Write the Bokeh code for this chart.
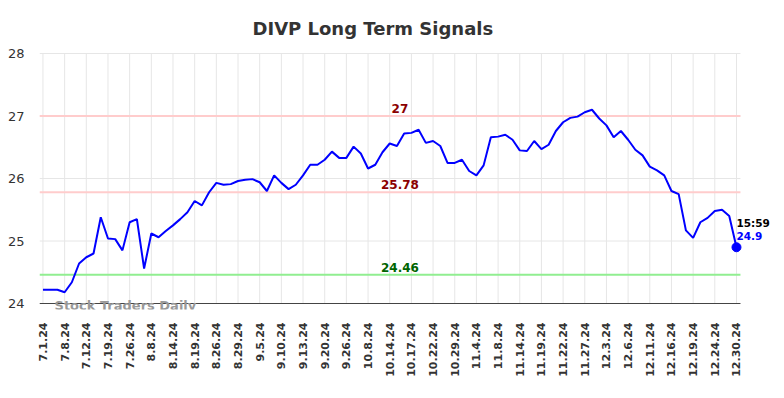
from bokeh.plotting import figure
from bokeh.models import FixedTicker, Label, ColumnDataSource, Range1d
from bokeh.embed import file_html
from bokeh.resources import INLINE

# ---- data ----
dates = ["7.1.24", "7.8.24", "7.12.24", "7.19.24", "7.26.24", "8.8.24", "8.14.24",
         "8.19.24", "8.26.24", "8.29.24", "9.5.24", "9.10.24", "9.13.24", "9.20.24",
         "9.26.24", "10.8.24", "10.14.24", "10.17.24", "10.22.24", "10.29.24",
         "11.4.24", "11.8.24", "11.14.24", "11.19.24", "11.22.24", "11.27.24",
         "12.3.24", "12.6.24", "12.11.24", "12.16.24", "12.19.24", "12.24.24",
         "12.30.24"]
points_per_tick = 3

prices = [24.22, 24.22, 24.22, 24.18, 24.34, 24.64, 24.74, 24.80, 25.38, 25.04,
          25.03, 24.85, 25.30, 25.35, 24.56, 25.12, 25.06, 25.16, 25.25, 25.35,
          25.46, 25.64, 25.57, 25.78, 25.93, 25.90, 25.91, 25.96, 25.98, 25.99,
          25.94, 25.80, 26.05, 25.93, 25.83, 25.90, 26.05, 26.22, 26.22, 26.30,
          26.43, 26.33, 26.33, 26.51, 26.40, 26.16, 26.22, 26.42, 26.56, 26.52,
          26.72, 26.73, 26.78, 26.57, 26.60, 26.52, 26.25, 26.25, 26.30, 26.12,
          26.05, 26.21, 26.66, 26.67, 26.70, 26.62, 26.45, 26.44, 26.60, 26.47,
          26.54, 26.76, 26.90, 26.97, 26.99, 27.06, 27.10, 26.96, 26.85, 26.66,
          26.76, 26.62, 26.46, 26.37, 26.19, 26.13, 26.05, 25.80, 25.75, 25.17,
          25.05, 25.30, 25.37, 25.48, 25.50, 25.40, 24.90]

levels = [27.0, 25.78, 24.46]
level_labels = ["27", "25.78", "24.46"]
level_line_colors = ["#ffcccc", "#ffcccc", "#90ee90"]
level_text_colors = ["#8b0000", "#8b0000", "#006400"]
y_ticks = [24, 25, 26, 27, 28]
last_time = "15:59"

# ---- layout constants (plot area in data units) ----
x_lo, x_hi = -0.48, len(prices) - 1 + 0.55     # visible plot box
x_view_hi = x_lo + 741 / 7.224                 # frame extends right for end labels
y_lo, y_hi = y_ticks[0], y_ticks[-1]
y_view_lo, y_view_hi = y_lo - 6 / 62.5, y_hi + 1 / 62.5

xs = list(range(len(prices)))
src = ColumnDataSource(dict(x=xs, y=prices))
tick_pos = [i * points_per_tick for i in range(len(dates))]

p = figure(width=780, height=394, output_backend="svg", toolbar_location=None,
           x_range=Range1d(x_lo, x_view_hi), y_range=Range1d(y_view_lo, y_view_hi),
           min_border_left=39, min_border_right=0, min_border_top=52,
           min_border_bottom=85)
p.outline_line_color = None
p.background_fill_color = "white"
p.border_fill_color = "white"
p.xgrid.visible = False
p.ygrid.visible = False

p.title.text = "DIVP Long Term Signals"
p.title.text_font = "DejaVu Sans"
p.title.text_font_size = "18px"
p.title.text_font_style = "bold"
p.title.text_color = "#333333"
p.title.align = "left"
p.title.offset = 213
p.title.standoff = 28

p.xaxis.ticker = FixedTicker(ticks=tick_pos)
p.xaxis.major_label_overrides = {t: d for t, d in zip(tick_pos, dates)}
p.xaxis.major_label_orientation = 1.5707963
p.xaxis.major_label_text_font = "DejaVu Sans"
p.xaxis.major_label_text_font_size = "11px"
p.xaxis.major_label_text_font_style = "bold"
p.xaxis.major_label_text_color = "#333333"
p.xaxis.major_tick_line_color = None
p.xaxis.major_tick_out = 0
p.xaxis.major_tick_in = 0
p.xaxis.minor_tick_line_color = None
p.xaxis.major_label_standoff = 13
p.xaxis.axis_line_color = None

p.yaxis.ticker = FixedTicker(ticks=y_ticks)
p.yaxis.major_label_text_font = "DejaVu Sans"
p.yaxis.major_label_text_font_size = "13px"
p.yaxis.major_label_text_color = "#333333"
p.yaxis.axis_line_color = None
p.yaxis.major_tick_line_color = None
p.yaxis.minor_tick_line_color = None
p.yaxis.major_label_standoff = 9

# grid lines limited to the plot box
p.segment(x0=[x_lo] * len(y_ticks), x1=[x_hi] * len(y_ticks), y0=y_ticks, y1=y_ticks,
          line_color="#e6e6e6", line_width=1)
p.segment(x0=tick_pos, x1=tick_pos, y0=[y_lo] * len(tick_pos), y1=[y_hi] * len(tick_pos),
          line_color="#e6e6e6", line_width=1)

# signal levels
p.segment(x0=[x_lo] * len(levels), x1=[x_hi] * len(levels), y0=levels, y1=levels,
          line_color=level_line_colors, line_width=2)
for lv, lt, tc in zip(levels, level_labels, level_text_colors):
    p.add_layout(Label(x=49.41, y=lv, text=lt, text_align="center",
                       text_baseline="middle", y_offset=7.5, text_color=tc,
                       text_font="DejaVu Sans", text_font_size="12px",
                       text_font_style="bold"))

# bottom axis line
p.segment(x0=[x_lo], x1=[x_hi], y0=[y_lo], y1=[y_lo], line_color="#444444", line_width=1)

p.add_layout(Label(x=1.6, y=y_lo, text="Stock Traders Daily", text_align="left",
                   text_baseline="alphabetic", y_offset=-2, text_color="#999999",
                   text_font="DejaVu Sans", text_font_size="13px",
                   text_font_style="bold"))

p.line("x", "y", source=src, line_color="#0000ff", line_width=2)
p.scatter([xs[-1]], [prices[-1]], size=9, color="#0000ff")

p.add_layout(Label(x=xs[-1], y=prices[-1], text=last_time, text_align="left",
                   text_baseline="middle", y_offset=24, text_color="#000000",
                   text_font="DejaVu Sans", text_font_size="10.5px",
                   text_font_style="bold"))
p.add_layout(Label(x=xs[-1], y=prices[-1], text=f"{prices[-1]}", text_align="left",
                   text_baseline="middle", y_offset=11, text_color="#0000ff",
                   text_font="DejaVu Sans", text_font_size="10.5px",
                   text_font_style="bold"))

open("out.html", "w").write(file_html(p, INLINE))
